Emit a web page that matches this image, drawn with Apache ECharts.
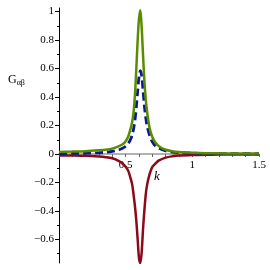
<!DOCTYPE html>
<html><head><meta charset="utf-8">
<script src="https://cdn.jsdelivr.net/npm/echarts@6/dist/echarts.min.js"></script>
<style>html,body{margin:0;padding:0;background:#fff}#c{width:270px;height:270px}</style>
</head><body><div id="c"></div>
<script>
const kValues = [0,0.1,0.2,0.3,0.35,0.4,0.45,0.48,0.5,0.52,0.54,0.55,0.56,0.57,0.58,0.59,0.6,0.61,0.62,0.63,0.64,0.65,0.66,0.68,0.7,0.72,0.75,0.8,0.85,0.9,1.0,1.1,1.2,1.3,1.4,1.5];
const greenValues = [0.015,0.017,0.02,0.026,0.03,0.038,0.055,0.07,0.09,0.125,0.19,0.23,0.3,0.42,0.6,0.8,0.95,1.01,0.89,0.7,0.52,0.39,0.3,0.18,0.12,0.085,0.055,0.03,0.02,0.014,0.009,0.006,0.005,0.004,0.003,0.003];
const blueValues = [0.003,0.004,0.006,0.009,0.012,0.018,0.03,0.042,0.055,0.075,0.11,0.14,0.18,0.24,0.33,0.44,0.54,0.585,0.55,0.45,0.34,0.26,0.2,0.13,0.085,0.06,0.04,0.022,0.014,0.01,0.006,0.004,0.003,0.003,0.002,0.002];
const redValues = [-0.01,-0.011,-0.013,-0.018,-0.022,-0.03,-0.05,-0.07,-0.09,-0.12,-0.18,-0.22,-0.29,-0.37,-0.47,-0.6,-0.73,-0.765,-0.69,-0.53,-0.4,-0.29,-0.22,-0.14,-0.09,-0.07,-0.045,-0.025,-0.016,-0.011,-0.007,-0.005,-0.004,-0.003,-0.003,-0.003];
const yMajorTicks = [-0.6,-0.4,-0.2,0,0.2,0.4,0.6,0.8,1];
const yMinorTicks = [-0.7,-0.5,-0.3,-0.1,0.1,0.3,0.5,0.7,0.9];
const xTickLabels = [0.5,1,1.5];

const pair = arr => kValues.map((k,i)=>[k,arr[i]]);
const serif = 'Liberation Serif';
const fmt = v => v < 0 ? '\u2212' + String(+(-v).toFixed(1)) : String(+v.toFixed(1));
const Y_MIN = -0.765, Y_MAX = 1.025;
const G = {left:59, top:8, width:200, height:255, containLabel:false, outerBoundsMode:'none'};
// third grid ends at the y=0 level so its bottom axis labels sit under the zero line
const zeroH = G.height * Y_MAX / (Y_MAX - Y_MIN);

const chart = echarts.init(document.getElementById('c'), null, {renderer:'canvas'});
chart.setOption({
  animation:false,
  grid:[G, Object.assign({}, G), Object.assign({}, G, {height: zeroH})],
  xAxis:[{type:'value', gridIndex:0, min:0, max:1.5, interval:0.5,
    axisLine:{onZero:true, onZeroAxisIndex:0, lineStyle:{color:'#999', width:1.5}},
    axisTick:{show:true, length:3, lineStyle:{color:'#666'}},
    minorTick:{show:true, splitNumber:5, length:3, lineStyle:{color:'#666'}},
    splitLine:{show:false},
    axisLabel:{show:false}},
   {type:'value', gridIndex:1, min:0, max:1.5, show:false},
   {type:'value', gridIndex:2, min:0, max:1.5, interval:0.5, position:'bottom',
    axisLine:{show:false, onZero:false}, axisTick:{show:false}, splitLine:{show:false},
    axisLabel:{showMinLabel:false, margin:6, color:'#000', fontFamily:serif, fontSize:11,
      formatter: v=> xTickLabels.indexOf(v) >= 0 ? String(v) : ''}}],
  yAxis:[{type:'value', gridIndex:0, min:Y_MIN, max:Y_MAX, position:'left',
    axisLine:{show:true, onZero:false, lineStyle:{color:'#000', width:1}},
    axisTick:{show:true, length:4, customValues: yMajorTicks, lineStyle:{color:'#000'}},
    splitLine:{show:false},
    axisLabel:{margin:5, color:'#000', fontFamily:serif, fontSize:11, customValues: yMajorTicks, formatter: fmt}},
   {type:'value', gridIndex:1, min:Y_MIN, max:Y_MAX, position:'left',
    axisLine:{show:false, onZero:false},
    axisTick:{show:true, length:2, customValues: yMinorTicks, lineStyle:{color:'#000'}},
    splitLine:{show:false},
    axisLabel:{show:false}},
   {type:'value', gridIndex:2, min:0, max:Y_MAX, show:false}],
  series:[
    {type:'line', xAxisIndex:0, yAxisIndex:0, data:pair(redValues), smooth:0.3, showSymbol:false, lineStyle:{color:'#8a0a1a', width:2.5}, z:3},
    {type:'line', xAxisIndex:0, yAxisIndex:0, data:pair(blueValues), smooth:0.3, showSymbol:false, lineStyle:{color:'#0a1a8c', width:2.8, type:[8,4]}, z:4},
    {type:'line', xAxisIndex:0, yAxisIndex:0, data:pair(greenValues), smooth:0.3, showSymbol:false, lineStyle:{color:'#5a8c00', width:2.5}, z:5}
  ],
  graphic:[
    {type:'text', left:8, top:74, style:{text:'{g|G}{s|\u03b1\u03b2}', rich:{g:{fontFamily:serif, fontSize:12, fill:'#000'}, s:{fontFamily:serif, fontSize:8, fill:'#000', padding:[6,0,0,0]}}}},
    {type:'text', left:154, top:170, style:{text:'k', fontFamily:serif, fontStyle:'italic', fontSize:13, fill:'#000'}}
  ]
});
</script></body></html>
